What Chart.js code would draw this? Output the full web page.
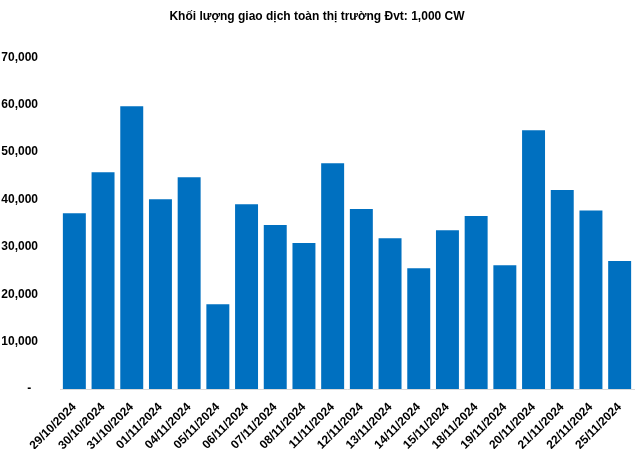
<!DOCTYPE html>
<html>
<head>
<meta charset="utf-8">
<script src="https://cdn.jsdelivr.net/npm/chart.js@4/dist/chart.umd.min.js"></script>
<style>
  html, body { margin: 0; padding: 0; background: #fff; }
  #wrap { width: 640px; height: 449px; }
</style>
</head>
<body>
<div id="wrap"><canvas id="grafico"></canvas></div>
<script>
const ngay = [
  '29/10/2024', '30/10/2024', '31/10/2024', '01/11/2024', '04/11/2024',
  '05/11/2024', '06/11/2024', '07/11/2024', '08/11/2024', '11/11/2024',
  '12/11/2024', '13/11/2024', '14/11/2024', '15/11/2024', '18/11/2024',
  '19/11/2024', '20/11/2024', '21/11/2024', '22/11/2024', '25/11/2024'
];
const khoiLuong = [
  37100, 45750, 59700, 40050, 44700,
  17900, 39000, 34600, 30800, 47650,
  38000, 31800, 25500, 33500, 36500,
  26100, 54600, 42000, 37700, 27000
];
const mocTrucY = [0, 10000, 20000, 30000, 40000, 50000, 60000, 70000];

Chart.defaults.font.family = '"Liberation Sans", Arial, sans-serif';
Chart.defaults.color = '#000';

new Chart(document.getElementById('grafico'), {
  type: 'bar',
  data: {
    labels: ngay,
    datasets: [{
      label: 'Khối lượng',
      data: khoiLuong,
      backgroundColor: '#0070C0',
      barPercentage: 0.8,
      categoryPercentage: 1.0
    }]
  },
  options: {
    responsive: true,
    maintainAspectRatio: false,
    animation: false,
    layout: { padding: { left: 0, right: 6, top: 0, bottom: 0 } },
    plugins: {
      legend: { display: false },
      tooltip: { enabled: false },
      title: {
        display: true,
        text: 'Khối lượng giao dịch toàn thị trường Đvt: 1,000 CW',
        font: { size: 12, weight: 'bold' },
        color: '#000',
        padding: { top: 9, bottom: 34 }
      }
    },
    scales: {
      x: {
        grid: { display: false },
        border: { display: true, color: '#d9d9d9', width: 1 },
        ticks: {
          font: { size: 12, weight: 'bold' },
          maxRotation: 45,
          minRotation: 45,
          autoSkip: false,
          padding: 3
        },
        afterFit: s => { s.height = 60; }
      },
      y: {
        min: mocTrucY[0],
        max: mocTrucY[mocTrucY.length - 1],
        grid: { display: false },
        border: { display: false },
        afterBuildTicks: s => { s.ticks = mocTrucY.map(v => ({ value: v })); },
        ticks: {
          font: { size: 12, weight: 'bold' },
          padding: 14,
          callback: v => v === 0 ? '-  ' : v.toLocaleString('en-US')
        },
        afterFit: s => { s.width = 60; }
      }
    }
  }
});
</script>
</body>
</html>
